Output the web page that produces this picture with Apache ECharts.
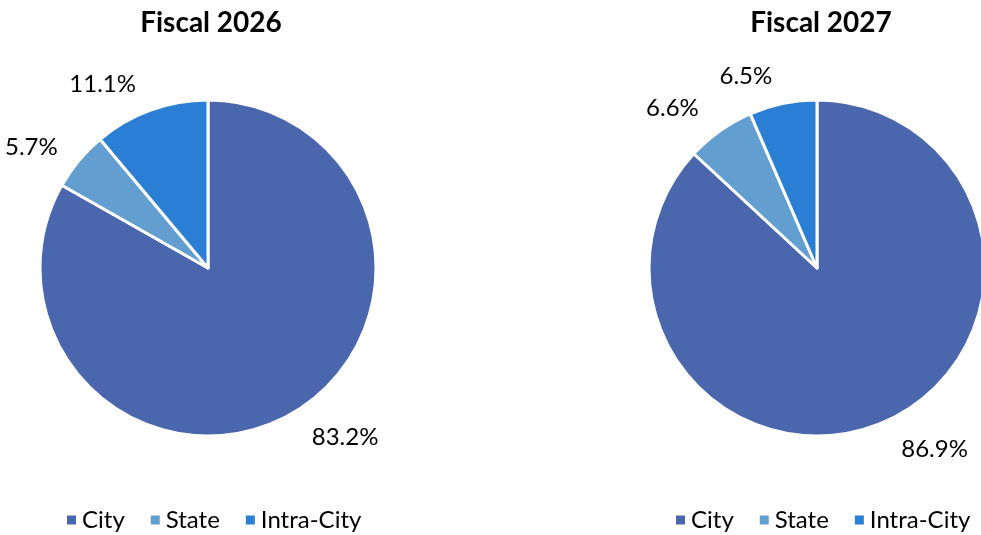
<!DOCTYPE html>
<html>
<head>
<meta charset="utf-8">
<script src="https://cdn.jsdelivr.net/npm/echarts@6/dist/echarts.min.js"></script>
<style>
  html, body { margin: 0; padding: 0; background: #fff; }
  #chart { width: 981px; height: 535px; }
</style>
</head>
<body>
<div id="chart"></div>
<script>
var categories = ['City', 'State', 'Intra-City'];
var years = ['Fiscal 2026', 'Fiscal 2027'];
var values2026 = [83.2, 5.7, 11.1];
var values2027 = [86.9, 6.6, 6.5];
var colors = ['#4A66AC', '#629FD0', '#2A7FD4'];

var FONT = 'Lato, "Noto Sans", sans-serif';

// label distance from the rim, per slice (Excel places them a bit unevenly)
function toData(values, gaps) {
  return categories.map(function (name, i) {
    return { name: name, value: values[i], labelLine: { length: gaps[i] } };
  });
}

function makePie(center, values, gaps) {
  return {
    type: 'pie',
    center: center,
    radius: 168,
    startAngle: 90,
    clockwise: true,
    avoidLabelOverlap: false,
    animation: false,
    itemStyle: { borderColor: '#fff', borderWidth: 3 },
    label: {
      show: true,
      position: 'outside',
      formatter: '{c}%',
      fontFamily: FONT,
      fontSize: 24,
      color: '#000'
    },
    labelLine: { show: false, length: 28, length2: 0 },
    emphasis: { disabled: true },
    data: toData(values, gaps)
  };
}

function makeLegend(left) {
  return {
    left: left,
    top: 503,
    itemWidth: 11,
    itemHeight: 11,
    itemGap: 24,
    icon: 'rect',
    selectedMode: false,
    textStyle: { fontFamily: FONT, fontSize: 24, color: '#000' },
    data: categories
  };
}

var chart = echarts.init(document.getElementById('chart'));
chart.setOption({
  color: colors,
  title: [
    { text: years[0], left: 206, top: 4, textAlign: 'center',
      textStyle: { fontFamily: FONT, fontSize: 28, fontWeight: 'bold', color: '#000' } },
    { text: years[1], left: 816, top: 4, textAlign: 'center',
      textStyle: { fontFamily: FONT, fontSize: 28, fontWeight: 'bold', color: '#000' } }
  ],
  legend: [makeLegend(60), makeLegend(669)],
  series: [
    makePie([208, 268], values2026, [28, 21, 28]),
    makePie([817, 268], values2027, [30, 28, 28])
  ]
});
</script>
</body>
</html>
